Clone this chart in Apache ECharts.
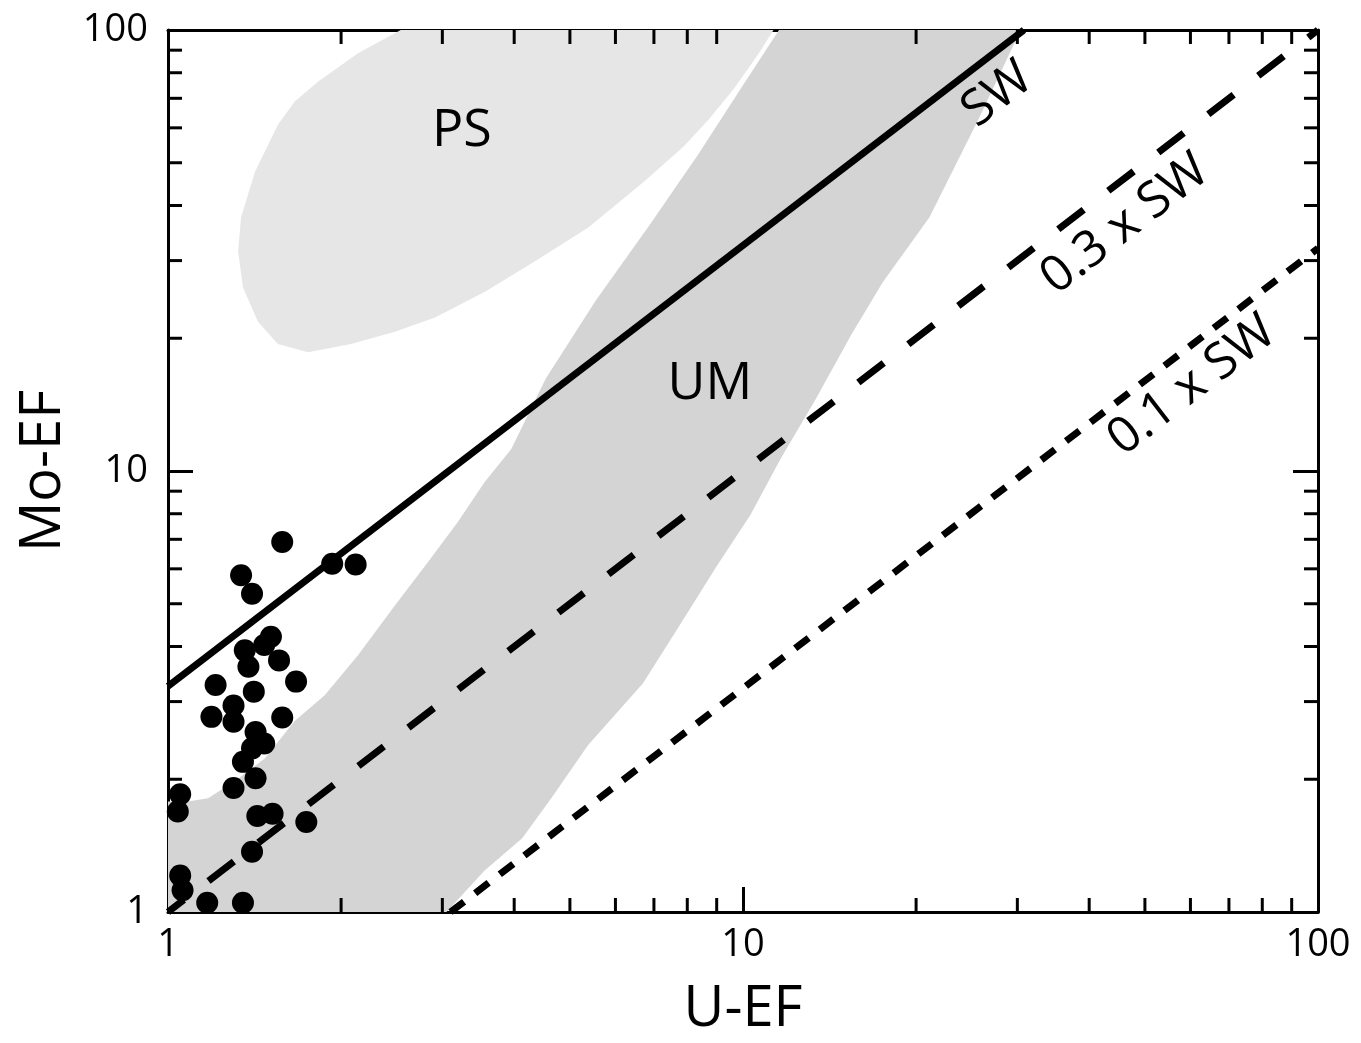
<!DOCTYPE html>
<html><head><meta charset="utf-8">
<script src="https://cdn.jsdelivr.net/npm/echarts@6/dist/echarts.min.js"></script>
<style>html,body{margin:0;padding:0;background:#fff}#c{width:1361px;height:1043px}</style>
</head><body><div id="c"></div>
<script>
// ---------------- data ----------------
const uEF  = [1.58,1.93,2.12,1.34,1.40,1.51,1.47,1.36,1.38,1.56,1.67,1.21,1.41,1.30,1.19,1.30,1.58,1.42,1.47,1.40,1.35,1.42,1.30,1.05,1.04,1.43,1.52,1.74,1.40,1.05,1.06,1.17,1.35];
const moEF = [6.90,6.16,6.14,5.80,5.27,4.21,4.03,3.92,3.60,3.72,3.33,3.27,3.16,2.94,2.77,2.70,2.76,2.56,2.41,2.35,2.19,2.01,1.91,1.85,1.69,1.65,1.67,1.60,1.37,1.21,1.12,1.05,1.05];

// field outlines [U-EF, Mo-EF]
const psRegion = [[2.54,100],[2.14,88.6],[1.823,76.3],[1.661,68.8],[1.553,61.0],[1.417,47.7],[1.340,37.6],[1.324,31.5],[1.350,26.1],[1.434,21.8],[1.553,19.4],[1.752,18.6],[2.081,19.4],[2.482,20.7],[2.913,22.3],[3.558,25.5],[4.347,29.9],[5.375,35.6],[6.70,45.1],[7.90,54.6],[8.73,62.8],[9.64,73.6],[10.6,87.7],[11.3,100]];
const umRegion = [[11.55,100],[30.4,100],[25.7,62.9],[21.1,37.6],[17.5,26.8],[15.4,20.3],[13.4,14.6],[11.6,10.6],[10.3,7.95],[9.01,6.10],[7.77,4.48],[6.70,3.30],[5.375,2.39],[4.64,1.81],[4.13,1.47],[3.55,1.24],[3.05,1],[1,1],[1,1.78],[1.083,1.78],[1.174,1.81],[1.306,1.98],[1.473,2.23],[1.661,2.71],[1.873,3.10],[2.140,3.82],[2.479,4.95],[2.833,6.22],[3.194,7.67],[3.554,9.44],[3.954,11.22],[4.54,16.2],[5.55,24.4],[6.89,36.2],[8.35,52.1],[9.80,72.0]];

// reference lines [U-EF, Mo-EF]
const swLine   = [[1,3.25],[30.8,100]];
const sw03Line = [[1,1],[100,100]];
const sw01Line = [[3.1,1],[100,32]];

const minorTicks = [2,3,4,5,6,7,8,9,20,30,40,50,60,70,80,90];

const labelTexts = ['PS','UM','SW','0.3 x SW','0.1 x SW'];
const labelAnchors = [[3.245,59.1],[8.76,15.7],[27.7,71.3],[46.2,36.2],[60.4,15.6]];
const labelAngles = [0,0,37.5,37.5,37.5];

// ---------------- chart ----------------
const FONT = '"Open Sans", "Noto Sans", sans-serif';
const chart = echarts.init(document.getElementById('c'), null, {renderer:'canvas'});

function axisBase(pos, showLabel, isY){
  return {
    type:'log', logBase:10, min:1, max:100, position:pos,
    axisLine:{show:true, onZero:false, lineStyle:{color:'#000', width:3}},
    axisTick:{show:true, inside:true, length:25, lineStyle:{color:'#000', width:3}},
    minorTick:{show:false},
    splitLine:{show:false},
    axisLabel:{show:showLabel, color:'#000', fontSize:38, fontFamily:FONT, margin: isY?20:14},
  };
}

function regionSeries(pts, color){
  return {
    type:'custom', silent:true, clip:true, z:1,
    data:[[1,1]],
    renderItem:(params, api)=>({
      type:'polygon',
      shape:{points: pts.map(p=>api.coord(p))},
      style:{fill:color, stroke:null}
    })
  };
}

const option = {
  animation:false,
  backgroundColor:'#fff',
  grid:{left:168, right:43, top:30, bottom:129, containLabel:false},
  xAxis:[
    Object.assign(axisBase('bottom', true, false), {name:'U-EF', nameLocation:'middle', nameGap:70, nameTextStyle:{color:'#000', fontSize:56, fontFamily:FONT}}),
    Object.assign(axisBase('top', false, false), {})
  ],
  yAxis:[
    Object.assign(axisBase('left', true, true), {name:'Mo-EF', nameLocation:'middle', nameGap:95, nameRotate:90, nameTextStyle:{color:'#000', fontSize:56, fontFamily:FONT}}),
    Object.assign(axisBase('right', false, true), {})
  ],
  series:[
    regionSeries(psRegion, '#e6e6e6'),
    regionSeries(umRegion, '#d4d4d4'),
    {type:'line', data:swLine, showSymbol:false, silent:true, z:3, lineStyle:{color:'#000', width:7, type:'solid'}},
    {type:'line', data:sw03Line, showSymbol:false, silent:true, z:3, lineStyle:{color:'#000', width:7, type:[32,31], dashOffset:12}},
    {type:'line', data:sw01Line, showSymbol:false, silent:true, z:3, lineStyle:{color:'#000', width:7, type:[17,14]}},
    {type:'scatter', data:uEF.map((u,i)=>[u, moEF[i]]), symbol:'circle', symbolSize:22, z:4, itemStyle:{color:'#000', opacity:1}},
    {type:'custom', silent:true, z:5, data:labelAnchors,
      renderItem:(params, api)=>{
        const i = params.dataIndex;
        const p = api.coord(labelAnchors[i]);
        return {type:'text', x:p[0], y:p[1], rotation: labelAngles[i]*Math.PI/180,
          style:{text:labelTexts[i], fill:'#000', font: (i<2?'52px ':'50px ')+FONT, align:'center', verticalAlign:'middle'}};
      }},
    {type:'custom', silent:true, z:6, data:minorTicks.map(v=>[v,v]),
      renderItem:(params, api)=>{
        const v = minorTicks[params.dataIndex];
        const cs = params.coordSys;
        const px = api.coord([v,1])[0];
        const py = api.coord([1,v])[1];
        const L = 14, st = {stroke:'#000', lineWidth:3};
        const b = cs.y + cs.height, t = cs.y, l = cs.x, r = cs.x + cs.width;
        return {type:'group', children:[
          {type:'line', shape:{x1:px, y1:b, x2:px, y2:b-L}, style:st},
          {type:'line', shape:{x1:px, y1:t, x2:px, y2:t+L}, style:st},
          {type:'line', shape:{x1:l, y1:py, x2:l+L, y2:py}, style:st},
          {type:'line', shape:{x1:r, y1:py, x2:r-L, y2:py}, style:st}
        ]};
      }}
  ]
};
chart.setOption(option);
</script></body></html>
